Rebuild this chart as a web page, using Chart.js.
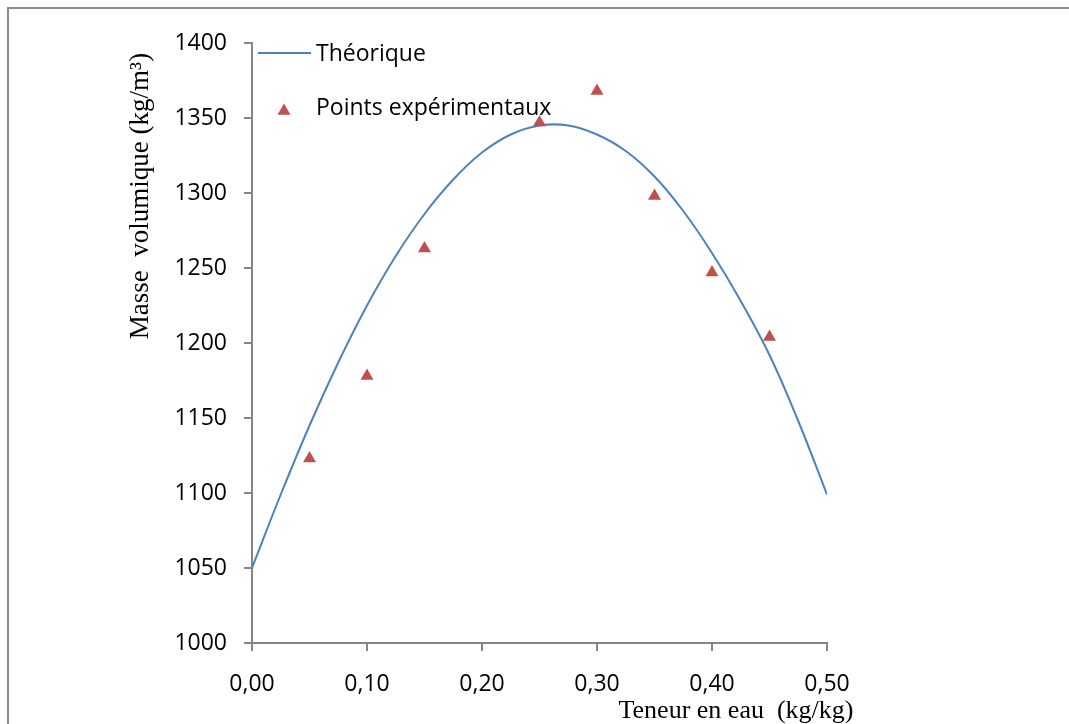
<!DOCTYPE html>
<html>
<head>
<meta charset="utf-8">
<script src="https://cdn.jsdelivr.net/npm/chart.js@4/dist/chart.umd.min.js"></script>
<style>
  html, body { margin: 0; padding: 0; background: #fff; }
  #wrap { position: relative; width: 1069px; height: 724px; overflow: hidden; }
  #frame { position: absolute; left: 7px; top: 7px; right: 0; bottom: 0;
           border-left: 2px solid #8c8c8c; border-top: 2px solid #8c8c8c; }
  #chart { position: absolute; left: 0; top: 0; }
</style>
</head>
<body>
<div id="wrap">
  <div id="frame"></div>
  <canvas id="chart" width="1069" height="724"></canvas>
</div>
<script>
// courbe théorique (lue tous les 0,025)
const teneurTheo = [0, 0.025, 0.05, 0.075, 0.10, 0.125, 0.15, 0.175, 0.20, 0.225, 0.25,
                    0.275, 0.30, 0.325, 0.35, 0.375, 0.40, 0.425, 0.45, 0.475, 0.50];
const masseTheo = [1050, 1099, 1145, 1187, 1225, 1258, 1286, 1309, 1327, 1339, 1345,
                   1345, 1339, 1328, 1311, 1288, 1260, 1228, 1192, 1148, 1099];

// points expérimentaux
const teneurExp = [0.05, 0.10, 0.15, 0.25, 0.30, 0.35, 0.40, 0.45];
const masseExp = [1123, 1178, 1263, 1347, 1368, 1298, 1247, 1204];

const xTitle = 'Teneur en eau  (kg/kg)';
const yTitle = 'Masse  volumique (kg/m³)';
const legendLabels = ['Théorique', 'Points expérimentaux'];

const blue = '#4F81BD';
const red = '#C0504D';
const axisGrey = '#868686';
const sansFont = '"Open Sans", sans-serif';
const serifFont = '"Liberation Serif", "Times New Roman", serif';

// titres des axes + légende dessinés à la main (placement libre)
const extras = {
    id: 'extras',
    afterDraw(chart) {
        const ctx = chart.ctx;
        ctx.save();
        ctx.fillStyle = '#000';
        ctx.textAlign = 'center';
        ctx.textBaseline = 'alphabetic';

        ctx.font = '26px ' + serifFont;
        ctx.fillText(xTitle, 736, 718);

        ctx.font = '27px ' + serifFont;
        ctx.translate(148, 196);
        ctx.rotate(-Math.PI / 2);
        ctx.fillText(yTitle, 0, 0);
        ctx.setTransform(1, 0, 0, 1, 0, 0);

        // légende
        ctx.strokeStyle = blue;
        ctx.lineWidth = 2;
        ctx.beginPath();
        ctx.moveTo(258, 53);
        ctx.lineTo(311, 53);
        ctx.stroke();

        ctx.fillStyle = red;
        Chart.helpers.drawPoint(ctx, {pointStyle: 'triangle', radius: 7.5, rotation: 0, borderWidth: 0}, 284, 111);

        ctx.fillStyle = '#000';
        ctx.font = '23px ' + sansFont;
        ctx.textAlign = 'left';
        ctx.fillText(legendLabels[0], 316, 61);
        ctx.fillText(legendLabels[1], 316, 115);
        ctx.restore();
    }
};

const ctx = document.getElementById('chart').getContext('2d');
new Chart(ctx, {
    type: 'scatter',
    data: {
        datasets: [
            {
                label: legendLabels[0],
                data: teneurTheo.map((x, i) => ({x: x, y: masseTheo[i]})),
                showLine: true,
                borderColor: blue,
                borderWidth: 2,
                pointRadius: 0,
                tension: 0.4,
                order: 1
            },
            {
                label: legendLabels[1],
                data: teneurExp.map((x, i) => ({x: x, y: masseExp[i]})),
                pointStyle: 'triangle',
                pointRadius: 7.5,
                pointBackgroundColor: red,
                pointBorderColor: red,
                pointBorderWidth: 0,
                order: 0
            }
        ]
    },
    options: {
        responsive: false,
        animation: false,
        layout: {
            padding: {left: 0, right: 242, top: 43, bottom: 0}
        },
        plugins: {
            legend: {display: false},
            tooltip: {enabled: false}
        },
        scales: {
            x: {
                type: 'linear',
                min: 0,
                max: 0.5,
                afterFit: scale => { scale.height = 81; },
                border: {display: true, color: axisGrey, width: 2},
                grid: {display: true, drawOnChartArea: false, drawTicks: true, tickLength: 8, color: axisGrey, lineWidth: 2},
                ticks: {
                    stepSize: 0.1,
                    padding: 20,
                    color: '#000',
                    font: {family: sansFont, size: 23},
                    maxRotation: 0,
                    callback: v => v.toFixed(2).replace('.', ',')
                }
            },
            y: {
                type: 'linear',
                min: 1000,
                max: 1400,
                afterFit: scale => { scale.width = 252; },
                border: {display: true, color: axisGrey, width: 2},
                grid: {display: true, drawOnChartArea: false, drawTicks: true, tickLength: 8, color: axisGrey, lineWidth: 2},
                ticks: {
                    stepSize: 50,
                    padding: 17,
                    color: '#000',
                    font: {family: sansFont, size: 23},
                    callback: v => String(v)
                }
            }
        }
    },
    plugins: [extras]
});
</script>
</body>
</html>
